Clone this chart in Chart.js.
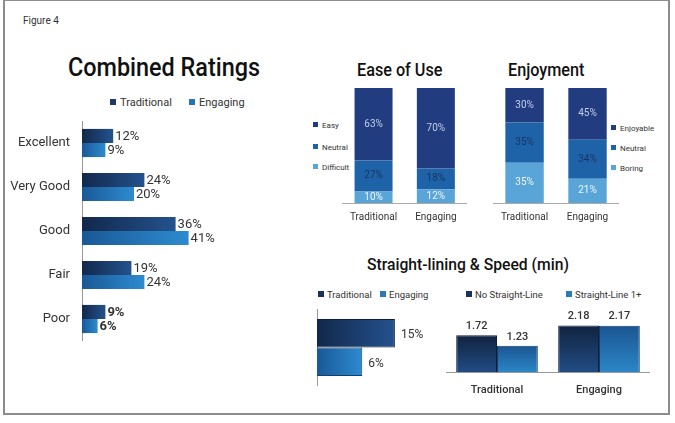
<!DOCTYPE html>
<html>
<head>
<meta charset="utf-8">
<script src="https://cdn.jsdelivr.net/npm/chart.js@4.4.1/dist/chart.umd.min.js"></script>
<style>
  body { margin: 0; width: 675px; height: 423px; background: #fff; position: relative; overflow: hidden; font-family: Roboto, "Liberation Sans", sans-serif; color: #333; }
  .frame { position: absolute; left: 3px; top: 0; width: 667px; height: 415px; box-sizing: border-box; border: 2px solid #8c8c8c; border-top-width: 1px; }
  .abs { position: absolute; white-space: nowrap; }
  .title { color: #111; font-weight: 500; transform: scaleX(0.9); transform-origin: left center; }
  .sq { display: inline-block; vertical-align: middle; position: relative; top: -1px; }
  .wrap { position: absolute; }
</style>
</head>
<body>
<div class="frame"></div>
<div class="abs" style="left:23px; top:15px; font-size:10px; color:#333;">Figure 4</div>

<!-- Combined Ratings -->
<div class="abs title" style="left:68px; top:52px; font-size:26px; line-height:30px;">Combined Ratings</div>
<div class="abs" style="left:110px; top:96px; font-size:11px; line-height:14px;"><span class="sq" style="width:6px;height:6px;margin-right:4px;background:#1b3a66"></span>Traditional</div>
<div class="abs" style="left:189px; top:96px; font-size:11px; line-height:14px;"><span class="sq" style="width:6px;height:6px;margin-right:4px;background:#2572b4"></span>Engaging</div>
<div class="wrap" style="left:10px; top:121px;"><canvas id="ratings" width="280" height="220"></canvas></div>

<!-- Ease of Use -->
<div class="abs title" style="left:357px; top:59px; font-size:18px; line-height:22px;">Ease of Use</div>
<div class="abs" style="left:313px; top:121px; font-size:8px; line-height:10px;"><span class="sq" style="width:5px;height:5px;margin-right:4px;background:#213d80"></span>Easy</div>
<div class="abs" style="left:313px; top:143px; font-size:8px; line-height:10px;"><span class="sq" style="width:5px;height:5px;margin-right:4px;background:#1e63a8"></span>Neutral</div>
<div class="abs" style="left:313px; top:163px; font-size:8px; line-height:10px;"><span class="sq" style="width:5px;height:5px;margin-right:4px;background:#5aa5d8"></span>Difficult</div>
<div class="wrap" style="left:342px; top:88px;"><canvas id="ease" width="125" height="140"></canvas></div>

<!-- Enjoyment -->
<div class="abs title" style="left:508px; top:59px; font-size:18px; line-height:22px;">Enjoyment</div>
<div class="abs" style="left:611px; top:124px; font-size:8px; line-height:10px;"><span class="sq" style="width:5px;height:5px;margin-right:4px;background:#213d80"></span>Enjoyable</div>
<div class="abs" style="left:611px; top:144px; font-size:8px; line-height:10px;"><span class="sq" style="width:5px;height:5px;margin-right:4px;background:#1e63a8"></span>Neutral</div>
<div class="abs" style="left:611px; top:164px; font-size:8px; line-height:10px;"><span class="sq" style="width:5px;height:5px;margin-right:4px;background:#5aa5d8"></span>Boring</div>
<div class="wrap" style="left:493px; top:88px;"><canvas id="enjoy" width="126" height="140"></canvas></div>

<!-- Straight-lining & Speed -->
<div class="abs title" style="left:367px; top:255px; font-size:16px; line-height:20px; transform:scaleX(0.98);">Straight-lining &amp; Speed (min)</div>
<div class="abs" style="left:318px; top:289px; font-size:9.5px; line-height:12px;"><span class="sq" style="width:6px;height:6px;margin-right:3px;background:#1a3258"></span>Traditional</div>
<div class="abs" style="left:380px; top:289px; font-size:9.5px; line-height:12px;"><span class="sq" style="width:6px;height:6px;margin-right:3px;background:#2a7ab8"></span>Engaging</div>
<div class="abs" style="left:466px; top:289px; font-size:9.5px; line-height:12px;"><span class="sq" style="width:6px;height:6px;margin-right:3px;background:#1a3258"></span>No Straight-Line</div>
<div class="abs" style="left:566px; top:289px; font-size:9.5px; line-height:12px;"><span class="sq" style="width:6px;height:6px;margin-right:3px;background:#2a7ab8"></span>Straight-Line 1+</div>
<div class="wrap" style="left:314px; top:309px;"><canvas id="straight" width="128" height="77"></canvas></div>
<div class="wrap" style="left:446px; top:308px;"><canvas id="speed" width="204" height="92"></canvas></div>

<script>
// Combined ratings (percent)
const ratingCategories = ["Excellent", "Very Good", "Good", "Fair", "Poor"];
const ratingTraditional = [12, 24, 36, 19, 9];
const ratingEngaging = [9, 20, 41, 24, 6];

// Both small stacked charts and the speed chart use these groups
const groupLabels = ["Traditional", "Engaging"];

// Ease of Use (percent)
const easeEasy = [63, 70];
const easeNeutral = [27, 18];
const easeDifficult = [10, 12];

// Enjoyment (percent)
const enjoyEnjoyable = [30, 45];
const enjoyNeutral = [35, 34];
const enjoyBoring = [35, 21];

// Straight-lining (percent): Traditional, Engaging
const straightLining = [15, 6];

// Speed (minutes)
const speedNoStraight = [1.72, 2.18];
const speedStraight = [1.23, 2.17];

const navy = "#213d80";
const mid = "#1e63a8";
const light = "#5aa5d8";

// Gradient along each bar, dark at the start
function barGradient(from, to, horizontal) {
    return function(ctx) {
        const chart = ctx.chart;
        const area = chart.chartArea;
        if (!area || ctx.raw === undefined) return from;
        let g;
        if (horizontal) {
            const x1 = chart.scales.x.getPixelForValue(ctx.raw);
            g = chart.ctx.createLinearGradient(area.left, 0, Math.max(x1, area.left + 1), 0);
        } else {
            const y0 = chart.scales.y.getPixelForValue(ctx.raw);
            g = chart.ctx.createLinearGradient(0, y0, 0, area.bottom);
        }
        g.addColorStop(0, from);
        g.addColorStop(1, to);
        return g;
    };
}

// Small plugin that writes a label for every bar
function labelPlugin(drawFn) {
    return {
        id: "barLabels",
        afterDatasetsDraw(chart) {
            const c = chart.ctx;
            c.save();
            chart.data.datasets.forEach((ds, i) => {
                chart.getDatasetMeta(i).data.forEach((bar, j) => {
                    drawFn(c, bar, ds.data[j], i, j);
                });
            });
            c.restore();
        }
    };
}

// keep the axis from reserving room above/below for its labels
function fixedWidth(w) {
    return s => { s.width = w; s.paddingTop = 0; s.paddingBottom = 0; };
}

const noExtras = { legend: { display: false }, tooltip: { enabled: false } };

// Combined Ratings
new Chart(document.getElementById("ratings"), {
    type: "bar",
    data: {
        labels: ratingCategories,
        datasets: [
            { label: "Traditional", data: ratingTraditional, backgroundColor: barGradient("#12284b", "#24528e", true) },
            { label: "Engaging", data: ratingEngaging, backgroundColor: barGradient("#1a5896", "#2d8bd0", true) }
        ]
    },
    options: {
        indexAxis: "y",
        responsive: false,
        animation: false,
        datasets: { bar: { categoryPercentage: 0.64, barPercentage: 1 } },
        scales: {
            x: { display: false, min: 0, max: 80 },
            y: {
                grid: { display: false, drawTicks: false },
                border: { color: "#999", width: 1 },
                ticks: { padding: 12, color: "#333", font: { family: "Roboto", size: 13 } },
                afterFit: fixedWidth(72)
            }
        },
        plugins: noExtras
    },
    plugins: [labelPlugin((c, bar, v, i, j) => {
        c.font = (j === 4 ? "bold " : "") + "13px Roboto";
        c.fillStyle = "#333";
        c.textAlign = "left";
        c.textBaseline = "middle";
        c.fillText(v + "%", bar.x + 2, bar.y + 1);
    })]
});

// Stacked 100% chart for Ease of Use and Enjoyment
function stackedChart(id, top, middle, bottom) {
    const textColours = ["#eef5fc", "#1b3563", "#c3cdea"];
    new Chart(document.getElementById(id), {
        type: "bar",
        data: {
            labels: groupLabels,
            datasets: [
                { data: bottom, backgroundColor: light },
                { data: middle, backgroundColor: mid },
                { data: top, backgroundColor: navy }
            ]
        },
        options: {
            responsive: false,
            animation: false,
            datasets: { bar: { categoryPercentage: 0.61, barPercentage: 1 } },
            scales: {
                x: {
                    stacked: true,
                    grid: { display: false, drawTicks: false },
                    border: { color: "#aaa", width: 1 },
                    ticks: { padding: 8, color: "#333", font: { family: "Roboto", size: 10 } },
                    afterFit: s => { s.height = 25; }
                },
                y: { stacked: true, display: false, min: 0, max: 100 }
            },
            plugins: noExtras
        },
        plugins: [labelPlugin((c, bar, v, i) => {
            c.font = "10px Roboto";
            c.fillStyle = textColours[i];
            c.textAlign = "center";
            c.textBaseline = "middle";
            c.fillText(v + "%", bar.x, (bar.y + bar.base) / 2);
        })]
    });
}
stackedChart("ease", easeEasy, easeNeutral, easeDifficult);
stackedChart("enjoy", enjoyEnjoyable, enjoyNeutral, enjoyBoring);

// Straight-lining share
new Chart(document.getElementById("straight"), {
    type: "bar",
    data: {
        labels: [""],
        datasets: [
            { label: "Traditional", data: [straightLining[0]], base: -6.5, backgroundColor: barGradient("#12284b", "#24528e", true), borderColor: "#0e1e38", borderWidth: 1 },
            { label: "Engaging", data: [straightLining[1]], base: -6.5, backgroundColor: barGradient("#1a5896", "#2d8bd0", true), borderColor: "#123e6a", borderWidth: 1 }
        ]
    },
    options: {
        indexAxis: "y",
        responsive: false,
        animation: false,
        datasets: { bar: { categoryPercentage: 0.74, barPercentage: 1 } },
        scales: {
            x: { display: false, min: -6.5, max: 28 },
            y: {
                grid: { display: false, drawTicks: false },
                border: { color: "#999", width: 1 },
                ticks: { display: false },
                afterFit: fixedWidth(3)
            }
        },
        plugins: noExtras
    },
    plugins: [labelPlugin((c, bar, v) => {
        c.font = "12px Roboto";
        c.fillStyle = "#333";
        c.textAlign = "left";
        c.textBaseline = "middle";
        c.fillText(v + "%", bar.x + 6, bar.y + 2);
    })]
});

// Speed in minutes
new Chart(document.getElementById("speed"), {
    type: "bar",
    data: {
        labels: groupLabels,
        datasets: [
            { label: "No Straight-Line", data: speedNoStraight, backgroundColor: barGradient("#11233f", "#204c84", false), borderColor: "#0e1e38", borderWidth: 1 },
            { label: "Straight-Line 1+", data: speedStraight, backgroundColor: barGradient("#1b5592", "#2b86c6", false), borderColor: "#123e6a", borderWidth: 1 }
        ]
    },
    options: {
        responsive: false,
        animation: false,
        datasets: { bar: { categoryPercentage: 0.8, barPercentage: 1 } },
        scales: {
            x: {
                grid: { display: false, drawTicks: false },
                border: { color: "#999", width: 1 },
                ticks: { padding: 12, color: "#333", font: { family: "Roboto", size: 11, weight: "500" } },
                afterFit: s => { s.height = 28; }
            },
            y: { display: false, min: 0, max: 3 }
        },
        plugins: noExtras
    },
    plugins: [labelPlugin((c, bar, v) => {
        c.font = "500 11px Roboto";
        c.fillStyle = "#333";
        c.textAlign = "center";
        c.textBaseline = "middle";
        c.fillText(v.toFixed(2), bar.x, bar.y - 9);
    })]
});
</script>
</body>
</html>
